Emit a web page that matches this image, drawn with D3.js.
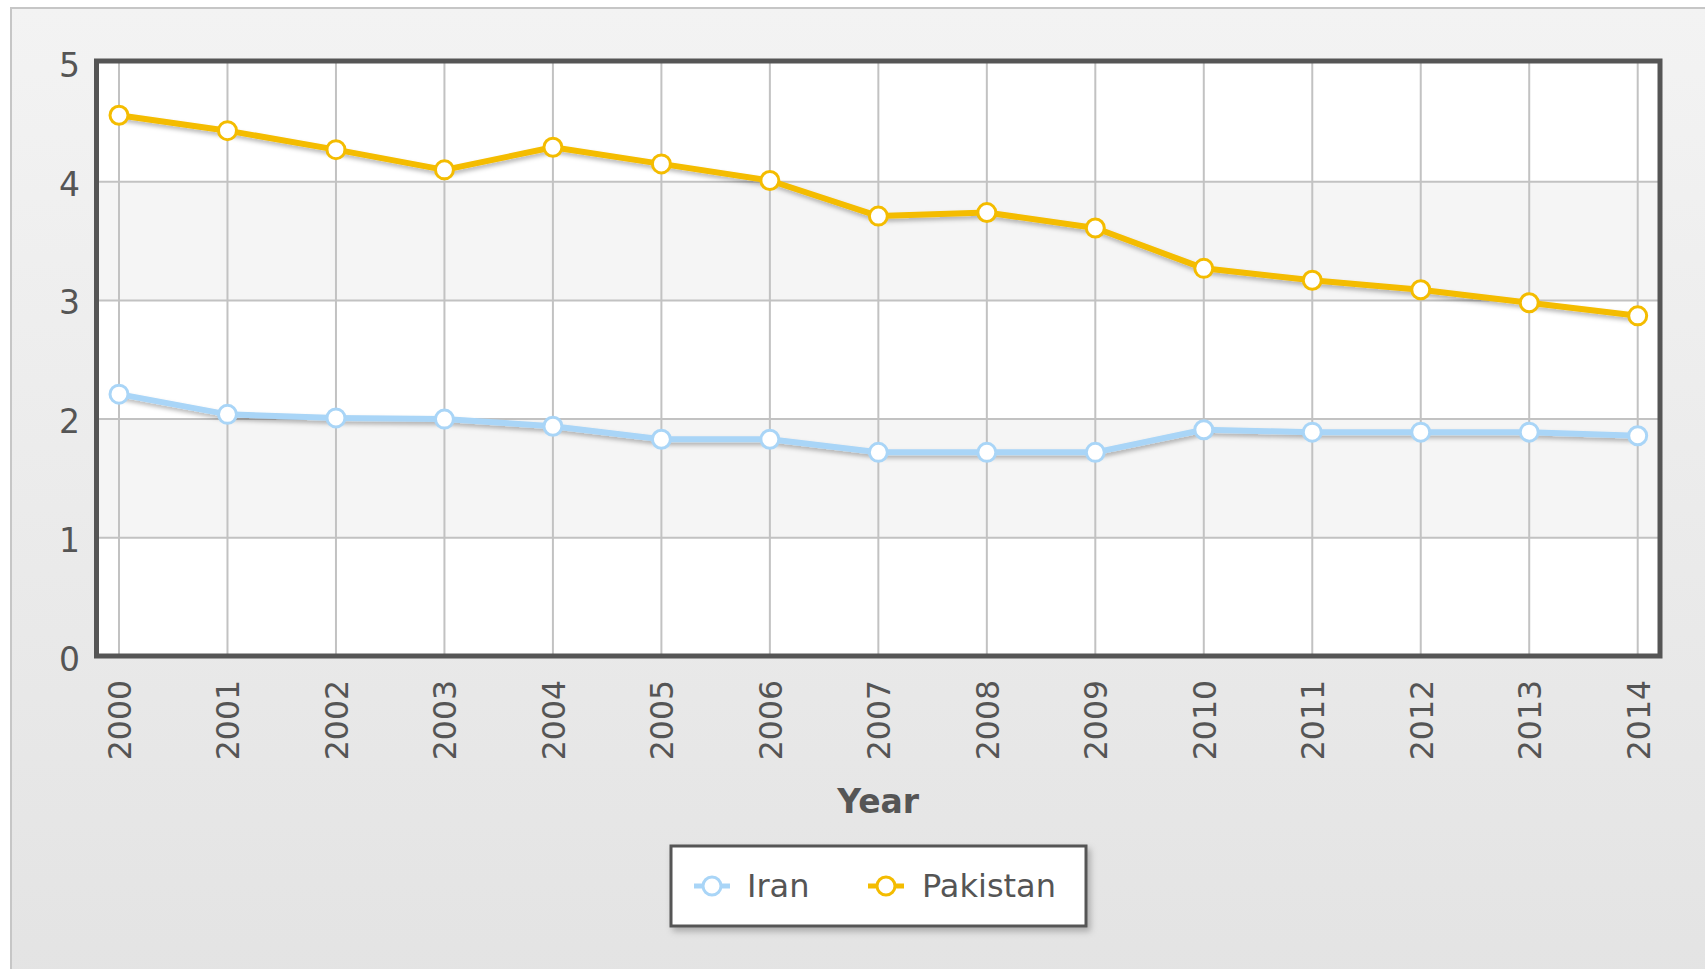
<!DOCTYPE html>
<html>
<head>
<meta charset="utf-8">
<script src="https://cdn.jsdelivr.net/npm/d3@7/dist/d3.min.js"></script>
<style>
  html, body { margin: 0; padding: 0; background: #ffffff; }
  svg { display: block; font-family: "DejaVu Sans", Verdana, sans-serif; }
</style>
</head>
<body>
<svg id="chart" width="1705" height="969"></svg>
<script>
const years = [2000, 2001, 2002, 2003, 2004, 2005, 2006, 2007, 2008, 2009, 2010, 2011, 2012, 2013, 2014];
const iran = [2.21, 2.04, 2.01, 2.00, 1.94, 1.83, 1.83, 1.72, 1.72, 1.72, 1.91, 1.89, 1.89, 1.89, 1.86];
const pakistan = [4.56, 4.43, 4.27, 4.10, 4.29, 4.15, 4.01, 3.71, 3.74, 3.61, 3.27, 3.17, 3.09, 2.98, 2.87];
const seriesNames = ["Iran", "Pakistan"];
const seriesColors = ["#a9d5f7", "#f4bc00"];
const yTicks = [0, 1, 2, 3, 4, 5];
const xTitle = "Year";

const svg = d3.select("#chart");
const defs = svg.append("defs");

const grad = defs.append("linearGradient").attr("id", "bg").attr("x1", 0).attr("y1", 0).attr("x2", 0).attr("y2", 1);
grad.append("stop").attr("offset", "0%").attr("stop-color", "#f3f3f3");
grad.append("stop").attr("offset", "100%").attr("stop-color", "#e3e3e3");

const sh = defs.append("filter").attr("id", "shadow").attr("x", "-5%").attr("y", "-20%").attr("width", "110%").attr("height", "160%");
sh.append("feDropShadow").attr("dx", 1).attr("dy", 3).attr("stdDeviation", 2).attr("flood-color", "#000").attr("flood-opacity", 0.28);
const sh2 = defs.append("filter").attr("id", "boxshadow").attr("x", "-10%").attr("y", "-20%").attr("width", "120%").attr("height", "150%");
sh2.append("feDropShadow").attr("dx", 3).attr("dy", 4).attr("stdDeviation", 3).attr("flood-color", "#000").attr("flood-opacity", 0.25);

// outer panel
svg.append("rect").attr("x", 11).attr("y", 8).attr("width", 1720).attr("height", 1000)
  .attr("fill", "url(#bg)").attr("stroke", "#c6c6c6").attr("stroke-width", 2);

const plot = { left: 96.5, right: 1660, top: 61, bottom: 656 };

const x = d3.scalePoint().domain(years).range([119, 1637.7]);
const y = d3.scaleLinear().domain([0, 5]).range([656.5, 63]);

// plot background
svg.append("rect").attr("x", plot.left).attr("y", plot.top)
  .attr("width", plot.right - plot.left).attr("height", plot.bottom - plot.top).attr("fill", "#ffffff");

// alternating bands
const bands = d3.range(yTicks.length - 1).filter(i => i % 2 === 1);
svg.append("g").selectAll("rect").data(bands).join("rect")
  .attr("x", plot.left).attr("width", plot.right - plot.left)
  .attr("y", i => y(yTicks[i + 1])).attr("height", i => y(yTicks[i]) - y(yTicks[i + 1]))
  .attr("fill", "#f5f5f5");

// grid lines
svg.append("g").selectAll("line").data(yTicks.slice(1, -1)).join("line")
  .attr("x1", plot.left).attr("x2", plot.right)
  .attr("y1", d => y(d)).attr("y2", d => y(d))
  .attr("stroke", "#c2c2c2").attr("stroke-width", 2);
svg.append("g").selectAll("line").data(years).join("line")
  .attr("x1", d => x(d)).attr("x2", d => x(d))
  .attr("y1", plot.top).attr("y2", plot.bottom)
  .attr("stroke", "#c2c2c2").attr("stroke-width", 2);

// border
svg.append("rect").attr("x", plot.left).attr("y", plot.top)
  .attr("width", plot.right - plot.left).attr("height", plot.bottom - plot.top)
  .attr("fill", "none").attr("stroke", "#555555").attr("stroke-width", 5);

// y axis
const yAxis = d3.axisLeft(y).tickValues(yTicks).tickSize(0).tickPadding(0).tickFormat(d3.format("d"));
const gy = svg.append("g").attr("transform", "translate(80,3)").call(yAxis);
gy.select(".domain").remove();
gy.selectAll("text").attr("font-size", 33).attr("fill", "#555").attr("font-family", "DejaVu Sans, sans-serif");

// x axis
const xAxis = d3.axisBottom(x).tickSize(0).tickPadding(0);
const gx = svg.append("g").attr("transform", "translate(0,680)").call(xAxis);
gx.select(".domain").remove();
gx.selectAll("text")
  .attr("font-size", 31.5).attr("fill", "#555").attr("font-family", "DejaVu Sans, sans-serif")
  .attr("transform", "rotate(-90)").attr("text-anchor", "end")
  .attr("x", 0).attr("y", 0).attr("dy", "0.36em");

// x title
svg.append("text").attr("x", (plot.left + plot.right) / 2).attr("y", 813)
  .attr("text-anchor", "middle").attr("font-size", 33).attr("font-weight", "bold")
  .attr("fill", "#555").text(xTitle);

// series
const seriesData = [iran, pakistan];
const line = d3.line().x((d, i) => x(years[i])).y(d => y(d));
seriesData.forEach((vals, si) => {
  const g = svg.append("g");
  g.append("path").datum(vals).attr("d", line).attr("fill", "none")
    .attr("stroke", seriesColors[si]).attr("stroke-width", 6)
    .attr("stroke-linejoin", "round").attr("filter", "url(#shadow)");
  g.selectAll("circle").data(vals).join("circle")
    .attr("cx", (d, i) => x(years[i])).attr("cy", d => y(d)).attr("r", 9)
    .attr("fill", "#ffffff").attr("stroke", seriesColors[si]).attr("stroke-width", 3);
});

// legend
const lg = svg.append("g");
lg.append("rect").attr("x", 671).attr("y", 846).attr("width", 415).attr("height", 80)
  .attr("fill", "#ffffff").attr("stroke", "#555555").attr("stroke-width", 3).attr("filter", "url(#boxshadow)");
const legendItems = [{ sx: 694, tx: 747 }, { sx: 868, tx: 922 }];
seriesNames.forEach((name, i) => {
  const it = legendItems[i];
  lg.append("line").attr("x1", it.sx).attr("x2", it.sx + 36).attr("y1", 886).attr("y2", 886)
    .attr("stroke", seriesColors[i]).attr("stroke-width", 5);
  lg.append("circle").attr("cx", it.sx + 18).attr("cy", 886).attr("r", 9)
    .attr("fill", "#fff").attr("stroke", seriesColors[i]).attr("stroke-width", 3);
  lg.append("text").attr("x", it.tx).attr("y", 897).attr("font-size", 32)
    .attr("fill", "#555").text(name);
});
</script>
</body>
</html>
